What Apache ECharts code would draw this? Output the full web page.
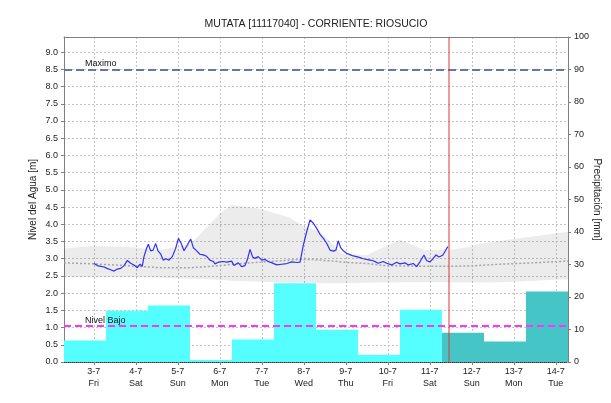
<!DOCTYPE html>
<html><head><meta charset="utf-8">
<script src="https://cdn.jsdelivr.net/npm/echarts@6/dist/echarts.min.js"></script>
<style>html,body{margin:0;padding:0;background:#fff}#c{width:611px;height:403px}</style>
</head><body><div id="c"></div>
<script>
// ---- data (x in hours since 3-7 00:00) ----
const chartTitle = 'MUTATA [11117040] - CORRIENTE: RIOSUCIO';
const leftAxisName = 'Nivel del Agua [m]';
const rightAxisName = 'Precipitación [mm]';
const dayTickHours = [0, 24, 48, 72, 96, 120, 144, 168, 192, 216, 240, 264];
const dayLabels = ['3-7', '4-7', '5-7', '6-7', '7-7', '8-7', '9-7', '10-7', '11-7', '12-7', '13-7', '14-7'];
const weekdayLabels = ['Fri', 'Sat', 'Sun', 'Mon', 'Tue', 'Wed', 'Thu', 'Fri', 'Sat', 'Sun', 'Mon', 'Tue'];

const levelHours = [0, 2, 4, 6, 6.5, 7.5, 9.7, 10.4, 11.6, 12.5, 13.4, 15.4, 17.3, 19.2, 21.1, 23, 24.9, 26.4, 27.7, 28.7,
  30.3, 31.2, 32.5, 33.9, 35.4, 36.7, 38.3, 39.7, 41.3, 43, 44.9, 46.8, 48.4, 49.9, 51.6, 53.5, 55.4, 56.9, 58.4, 60.7,
  62.6, 64.5, 66.4, 68.3, 69.3, 71.2, 74, 76.1, 78.8, 80.1, 82.6, 84.5, 86.4, 87.7, 89.3, 90.8, 92.1, 94, 96, 97.9,
  99.7, 101.9, 104.5, 107.4, 110.3, 113.1, 116, 117.9, 119.7, 121.7, 123.6, 125.5, 127.4, 129.3, 131.2, 133.1, 135, 136.9, 138.4, 139.7,
  141.1, 142.4, 144.5, 146.4, 148.3, 150.2, 152.1, 154, 155.9, 157.9, 159.7, 161.3, 162.6, 165.4, 167.4, 170.2, 173.1, 175, 177.9, 179.7,
  182.6, 184.5, 186.4, 188.7, 190.3, 192.1, 193.9, 195.6, 197.3, 199.4, 200.7, 202.3];
const levelValues = [2.87, 2.80, 2.78, 2.76, 2.80, 2.72, 2.68, 2.73, 2.64, 2.61, 2.70, 2.72, 2.80, 2.95, 2.87, 2.82, 2.74, 2.84, 2.78, 3.06,
  3.32, 3.42, 3.23, 3.25, 3.44, 3.23, 3.13, 2.96, 3.00, 2.96, 3.06, 3.30, 3.59, 3.45, 3.23, 3.40, 3.57, 3.32, 3.25, 3.13,
  3.11, 3.07, 2.96, 2.92, 2.85, 2.90, 2.92, 2.90, 2.93, 2.80, 2.88, 2.77, 2.80, 2.96, 3.27, 3.05, 3.01, 3.06, 2.96, 2.98,
  2.92, 2.88, 2.82, 2.84, 2.86, 2.91, 2.89, 2.90, 3.38, 3.79, 4.13, 4.03, 3.88, 3.71, 3.59, 3.45, 3.25, 3.22, 3.25, 3.52,
  3.32, 3.24, 3.16, 3.12, 3.08, 3.06, 3.03, 3.00, 2.98, 2.96, 2.94, 2.90, 2.87, 2.92, 2.87, 2.82, 2.90, 2.85, 2.88, 2.82,
  2.86, 2.77, 2.91, 3.11, 2.94, 2.91, 3.00, 3.11, 3.05, 3.10, 3.21, 3.35];

const bandHours = [-17, 0, 19, 38, 55, 65, 72, 79, 95, 112, 118, 124, 129, 137, 142, 156, 166, 175, 189, 204, 215, 222, 232, 242, 271];
const bandHigh = [3.30, 3.38, 3.35, 3.25, 3.42, 3.93, 4.32, 4.56, 4.45, 4.20, 4.00, 3.88, 3.80, 3.40, 3.15, 3.10, 3.35, 3.55, 3.25, 3.25, 3.35, 3.45, 3.52, 3.59, 3.78];
const bandLow = [2.46, 2.46, 2.46, 2.45, 2.42, 2.40, 2.38, 2.36, 2.33, 2.31, 2.30, 2.30, 2.29, 2.29, 2.29, 2.30, 2.31, 2.32, 2.32, 2.32, 2.31, 2.31, 2.32, 2.34, 2.40];
const bandMedian = [2.88, 2.85, 2.80, 2.74, 2.74, 2.77, 2.80, 2.84, 2.90, 2.96, 2.98, 2.98, 2.96, 2.93, 2.90, 2.86, 2.80, 2.79, 2.78, 2.78, 2.79, 2.81, 2.84, 2.86, 2.93];

const precipStart = [-17, 7, 31, 55, 79, 103, 127, 151, 175, 199, 223, 247];
const precipEnd = [7, 31, 55, 79, 103, 127, 151, 175, 199, 223, 247, 271];
const precipValues = [6.6, 15.8, 17.4, 0.6, 6.9, 24.2, 9.9, 2.2, 16.1, 9.0, 6.3, 21.7];
const precipForecast = [0, 0, 0, 0, 0, 0, 0, 0, 0, 1, 1, 1];

const maxLevel = 8.5, maxLabel = 'Maximo';
const lowLevel = 1.04, lowLabel = 'Nivel Bajo';
const nowHour = 203;
const levelAxisMax = 9.44;

// ---- chart ----
const FONT = 'Liberation Sans, Arial, sans-serif';
const chart = echarts.init(document.getElementById('c'), null, {renderer: 'canvas'});
const dotted = {color: '#C4C4C4', type: [2, 2], width: 1};

chart.setOption({
  animation: false,
  backgroundColor: '#fff',
  textStyle: {fontFamily: FONT},
  title: {
    text: chartTitle, left: 316, top: 19, textAlign: 'center', padding: 0,
    textStyle: {fontSize: 10.5, fontWeight: 'normal', color: '#222', fontFamily: FONT}
  },
  grid: {left: 64, right: 43, top: 37, bottom: 41, outerBoundsMode: 'none', containLabel: false},
  xAxis: [{
    type: 'value', min: -17, max: 271, position: 'bottom',
    axisLine: {show: true, onZero: false, lineStyle: {color: '#333', type: [1, 1], width: 1}},
    axisTick: {show: true, customValues: dayTickHours, length: 3, lineStyle: {color: '#808080'}},
    axisLabel: {
      customValues: dayTickHours, fontSize: 9, lineHeight: 12, color: '#222', margin: 4, fontFamily: FONT,
      formatter: function (v) { const i = dayTickHours.indexOf(v); return i < 0 ? '' : dayLabels[i] + '\n' + weekdayLabels[i]; }
    },
    splitLine: {show: true, lineStyle: dotted}
  }, {
    type: 'value', min: -17, max: 271, position: 'top',
    axisLine: {show: true, onZero: false, lineStyle: {color: '#808080'}},
    axisTick: {show: false}, axisLabel: {show: false}, splitLine: {show: false}
  }],
  yAxis: [{
    type: 'value', min: 0, max: levelAxisMax, interval: 0.5, position: 'left',
    name: leftAxisName, nameLocation: 'middle', nameGap: 26, nameMoveOverlap: false,
    nameTextStyle: {fontSize: 10, color: '#222', fontFamily: FONT},
    axisLine: {show: true, onZero: false, lineStyle: {color: '#808080'}},
    axisTick: {show: true, length: 3, lineStyle: {color: '#808080'}},
    axisLabel: {fontSize: 9, color: '#222', margin: 6, showMaxLabel: false, fontFamily: FONT,
      formatter: function (v) { return v.toFixed(1); }},
    splitLine: {show: true, lineStyle: dotted}
  }, {
    type: 'value', min: 0, max: 100, interval: 10, position: 'right',
    name: rightAxisName, nameLocation: 'middle', nameGap: 24, nameRotate: -90, nameMoveOverlap: false,
    nameTextStyle: {fontSize: 10, color: '#222', fontFamily: FONT},
    axisLine: {show: true, onZero: false, lineStyle: {color: '#808080'}},
    axisTick: {show: true, length: 3, lineStyle: {color: '#808080'}},
    axisLabel: {fontSize: 9, color: '#222', margin: 6, fontFamily: FONT},
    splitLine: {show: false}
  }],
  series: [{
    type: 'custom', name: 'band', xAxisIndex: 0, yAxisIndex: 0, z: 1, silent: true,
    encode: {x: 0, y: [1, 2]},
    data: bandHours.map((h, i) => [h, bandLow[i], bandHigh[i]]),
    renderItem: function (params, api) {
      if (params.dataIndex !== 0) return null;
      const pts = [];
      for (let i = 0; i < bandHours.length; i++) pts.push(api.coord([bandHours[i], bandHigh[i]]));
      for (let i = bandHours.length - 1; i >= 0; i--) pts.push(api.coord([bandHours[i], bandLow[i]]));
      return {type: 'polygon', shape: {points: pts}, style: {fill: 'rgba(0,0,0,0.075)'}};
    }
  }, {
    type: 'line', name: 'median', symbol: 'none', silent: true, z: 2,
    lineStyle: {color: '#A4A4A4', type: [2, 2], width: 1.5},
    data: bandHours.map((h, i) => [h, bandMedian[i]])
  }, {
    type: 'custom', name: 'precip', xAxisIndex: 0, yAxisIndex: 1, z: 3, silent: true,
    encode: {x: [0, 1], y: 2},
    data: precipValues.map((v, i) => [precipStart[i], precipEnd[i], v, precipForecast[i]]),
    renderItem: function (params, api) {
      const p0 = api.coord([api.value(0), api.value(2)]);
      const p1 = api.coord([api.value(1), 0]);
      return {type: 'rect', shape: {x: p0[0], y: p0[1], width: p1[0] - p0[0], height: p1[1] - p0[1]},
        style: {fill: api.value(3) ? '#45C5C5' : '#55FFFF'}};
    }
  }, {
    type: 'line', name: 'nivel', symbol: 'none', z: 5,
    lineStyle: {color: '#3030F8', width: 1.2},
    data: levelHours.map((h, i) => [h, levelValues[i]]),
    markLine: {
      silent: true, symbol: 'none', z: 6, animation: false,
      data: [
        {yAxis: maxLevel, lineStyle: {color: '#6677A6', type: [8, 4], width: 2},
          label: {show: true, formatter: maxLabel, position: 'insideStartTop', distance: [21, 1], fontSize: 9, color: '#111', fontFamily: FONT}},
        {yAxis: lowLevel, lineStyle: {color: '#FF33FF', type: [7, 4], width: 2},
          label: {show: true, formatter: lowLabel, position: 'insideStartTop', distance: [21, 1], fontSize: 9, color: '#111', fontFamily: FONT}}
      ]
    }
  }, {
    type: 'line', name: 'now', symbol: 'none', z: 7, silent: true,
    lineStyle: {color: '#D83838', width: 1, type: 'solid'},
    itemStyle: {color: '#D83838'},
    data: [[nowHour, 0], [nowHour, levelAxisMax]]
  }]
});
</script></body></html>
